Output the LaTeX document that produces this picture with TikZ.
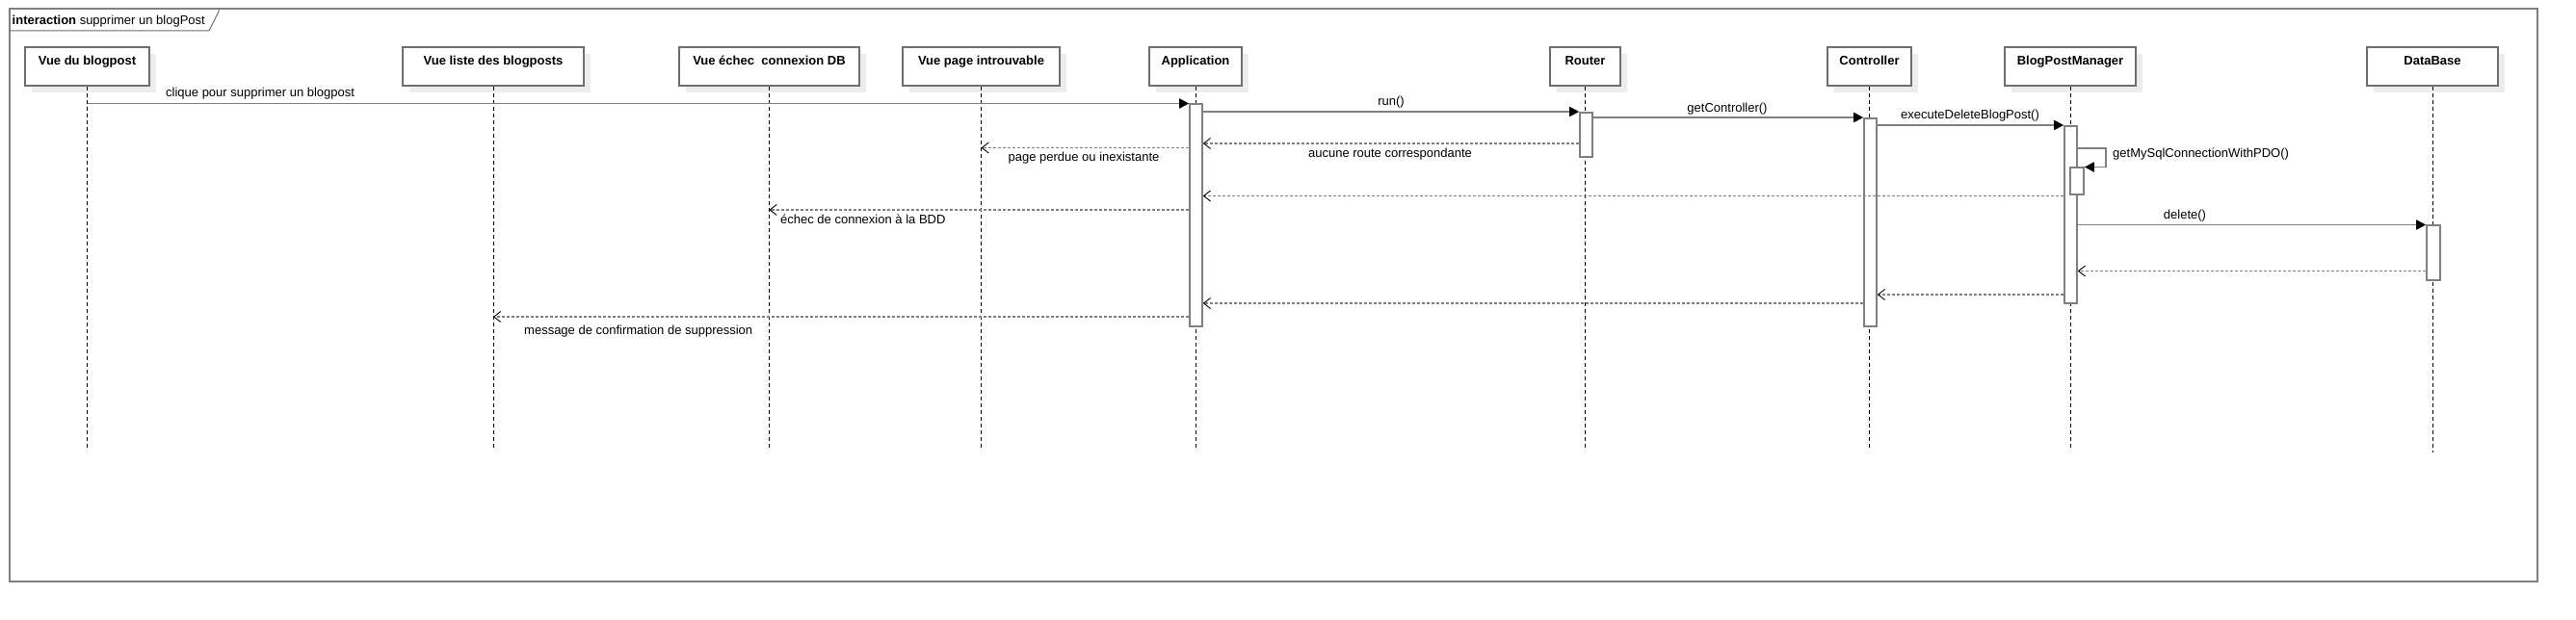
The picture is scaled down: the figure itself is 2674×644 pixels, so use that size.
\documentclass[tikz,border=0pt]{standalone}
\usepackage{fontspec}
\setmainfont{Liberation Sans}
\usetikzlibrary{arrows.meta}
\definecolor{lgray}{HTML}{808080}
\definecolor{dgray}{HTML}{6E6E6E}
\definecolor{shadowc}{HTML}{EDEDED}
\tikzset{
  hdr/.style={draw=dgray, line width=1.5pt, fill=white, minimum height=40pt, inner sep=0pt},
  hdrshadow/.style={fill=shadowc, draw=none},
  hdrtext/.style={anchor=base, inner sep=0pt, font=\fontsize{13}{15}\selectfont\bfseries},
  lbl/.style={anchor=base, inner sep=0pt, font=\fontsize{13}{15}\selectfont},
  life/.style={draw=black, line width=0.9pt, dash pattern=on 4pt off 3pt},
  bar/.style={draw=lgray, line width=1.6pt, fill=white, minimum width=13pt, inner sep=0pt, anchor=north},
  msg/.style={draw=lgray, line width=1.8pt, -{Triangle[length=10pt,width=10pt,color=black]}},
  ret/.style={draw=lgray, line width=1.8pt, dash pattern=on 3pt off 2pt, -{Straight Barb[length=7pt,width=11pt,color=black,line width=0.9pt]}},
  frame/.style={draw=lgray, line width=1.8pt},
  tab/.style={draw=dgray, line width=1pt}
}
\begin{document}
\begin{tikzpicture}[x=1pt,y=-1pt]
\useasboundingbox (0,0) rectangle (2674,644);
\fill[white] (0,0) rectangle (2674,644);
% frame
\draw[frame] (10,9) rectangle (2634,604);
\draw[tab] (10,32) -- (217,32) -- (227,12) -- (227,9);
\node[lbl, anchor=base west] (title) at (12.5,26) {\textbf{interaction} supprimer un blogPost};

% header shadows
\foreach \xa/\xb in {26/155, 418/606, 705/892, 937/1100, 1193/1289, 1609/1682, 1897/1984, 2081/2217, 2457/2593}
  \fill[hdrshadow] (\xa+7,49+7) rectangle (\xb+7,89+7);

% headers
\node[hdr, minimum width=129pt] (vdb) at (90.5,69) {};
\node[hdr, minimum width=188pt] (vlb) at (512,69) {};
\node[hdr, minimum width=187pt] (vec) at (798.5,69) {};
\node[hdr, minimum width=163pt] (vpi) at (1018.5,69) {};
\node[hdr, minimum width=96pt] (app) at (1241,69) {};
\node[hdr, minimum width=73pt] (rtr) at (1645.5,69) {};
\node[hdr, minimum width=87pt] (ctl) at (1940.5,69) {};
\node[hdr, minimum width=136pt] (bpm) at (2149,69) {};
\node[hdr, minimum width=136pt] (db) at (2525,69) {};

\node[hdrtext] (tvdb) at (90.5,68) {Vue du blogpost};
\node[hdrtext] (tvlb) at (512,68) {Vue liste des blogposts};
\node[hdrtext] (tvec) at (798.5,68) {Vue échec \ connexion DB};
\node[hdrtext] (tvpi) at (1018.5,68) {Vue page introuvable};
\node[hdrtext] (tapp) at (1241,68) {Application};
\node[hdrtext] (trtr) at (1645.5,68) {Router};
\node[hdrtext] (tctl) at (1940.5,68) {Controller};
\node[hdrtext] (tbpm) at (2149,68) {BlogPostManager};
\node[hdrtext] (tdb) at (2525,68) {DataBase};

% lifeline ends
\coordinate (lend) at (0,466);
\coordinate (lenddb) at (0,470);
\foreach \n in {vdb,vlb,vec,vpi,app,rtr,ctl,bpm}
  \draw[life] (\n.south) -- (\n.center |- lend);
\draw[life] (db.south) -- (db.center |- lenddb);

% activation bars
\node[bar, minimum height=230.5pt] (appbar) at (1241.5,107.5) {};
\node[bar, minimum height=46pt] (rtrbar) at (1646.5,116) {};
\node[bar, minimum height=216pt] (ctlbar) at (1941.5,122) {};
\node[bar, minimum height=184pt] (bpmbar) at (2149.5,130) {};
\node[bar, minimum height=27.5pt, minimum width=14pt] (bpmsub) at (2156,173.5) {};
\node[bar, minimum height=56.5pt, minimum width=14pt] (dbbar) at (2526,233.5) {};

% message y-levels
\coordinate (r1) at (0,149);
\coordinate (r2) at (0,153.5);
\coordinate (r3) at (0,203.5);
\coordinate (r4) at (0,218);
\coordinate (r5) at (0,281.5);
\coordinate (r6) at (0,306);
\coordinate (r7) at (0,315);
\coordinate (r8) at (0,329);
\coordinate (selfc) at (2186,154);

% synchronous messages
\draw[msg] (vdb.center |- appbar.north) -- (appbar.north west);
\node[lbl, anchor=base west] (l1) at (172,100.5) {clique pour supprimer un blogpost};
\draw[msg] (appbar.east |- rtrbar.north) -- (rtrbar.north west);
\node[lbl] (l2) at (1444,110) {run()};
\draw[msg] (rtrbar.east |- ctlbar.north) -- (ctlbar.north west);
\node[lbl] (l3) at (1793,117) {getController()};
\draw[msg] (ctlbar.east |- bpmbar.north) -- (bpmbar.north west);
\node[lbl] (l4) at (2045,124) {executeDeleteBlogPost()};
\draw[msg] (bpmbar.east |- selfc) -- (selfc) |- (bpmsub.north east);
\node[lbl, anchor=base west] (l5) at (2193,164) {getMySqlConnectionWithPDO()};
\draw[msg] (bpmbar.east |- dbbar.north) -- (dbbar.north west);
\node[lbl] (l6) at (2268,227.5) {delete()};

% returns
\draw[ret] (rtrbar.west |- r1) -- (appbar.east |- r1);
\node[lbl] (l7) at (1443,163.5) {aucune route correspondante};
\draw[ret] (appbar.west |- r2) -- (vpi.center |- r2);
\node[lbl] (l8) at (1125,167.5) {page perdue ou inexistante};
\draw[ret] (bpmbar.west |- r3) -- (appbar.east |- r3);
\draw[ret] (appbar.west |- r4) -- (vec.center |- r4);
\node[lbl, anchor=base west] (l9) at (810,233) {échec de connexion à la BDD};
\draw[ret] (dbbar.west |- r5) -- (bpmbar.east |- r5);
\draw[ret] (bpmbar.west |- r6) -- (ctlbar.east |- r6);
\draw[ret] (ctlbar.west |- r7) -- (appbar.east |- r7);
\draw[ret] (appbar.west |- r8) -- (vlb.center |- r8);
\node[lbl, anchor=base west] (l10) at (544,347.5) {message de confirmation de suppression};
\end{tikzpicture}
\end{document}
